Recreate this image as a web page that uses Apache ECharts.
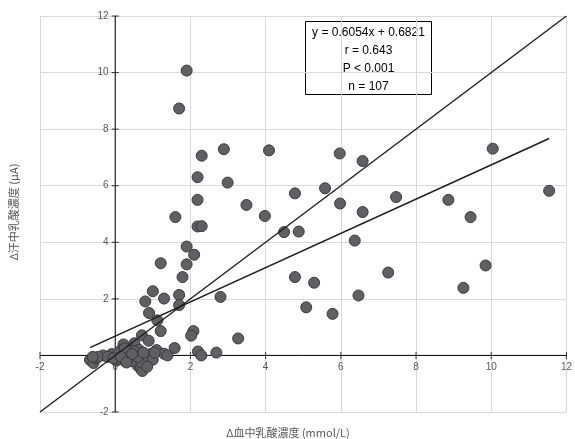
<!DOCTYPE html>
<html>
<head>
<meta charset="utf-8">
<script src="https://cdn.jsdelivr.net/npm/echarts@6/dist/echarts.min.js"></script>
<style>
  html, body { margin: 0; padding: 0; background: #fff; }
  #chart { width: 575px; height: 439px; }
</style>
</head>
<body>
<div id="chart"></div>
<script>
// Δ血中乳酸濃度 (x) と Δ汗中乳酸濃度 (y)
const bloodLactate = [
  1.90, 1.70, 2.30, 2.89, 4.09, 5.97, 6.58, 10.04, 2.19, 2.99,
  2.19, 4.78, 5.58, 5.98, 6.58, 7.47, 8.86, 9.45, 11.54, 3.49,
  3.98, 1.60, 2.19, 2.30, 4.49, 4.88, 6.37, 1.90, 2.10, 1.21,
  1.90, 1.79, 4.78, 7.26, 9.85, 5.29, 9.26, 6.47, 5.08, 5.78,
  2.80, 1.00, 1.30, 1.70, 0.80, 1.70, 0.90, 1.12, 1.21, 2.08,
  2.02, 0.71, 0.89, 3.27, 2.69, 0.22, 0.51, 1.58, 1.10, 1.30,
  1.39, 2.20, 2.29, 0.63, 0.41, 0.15, -0.67, -0.58, -0.51, -0.32,
  -0.09, 0.03, 0.18, 0.03, 0.24, 0.55, 0.40, 0.59, 0.78, 0.83,
  0.59, 0.68, 0.72, 0.83, 0.08, -0.45, -0.20, 0.30, 0.45, 0.65,
  0.70, 0.90, 0.50, 0.10, -0.60, 0.35, 0.95, 1.00, 0.25, 0.60,
  0.75, -0.05, 0.45, 0.85, 0.15, 1.05, 0.30
];
const sweatLactate = [
  10.07, 8.73, 7.06, 7.29, 7.25, 7.14, 6.87, 7.31, 6.30, 6.11,
  5.50, 5.73, 5.91, 5.37, 5.07, 5.60, 5.50, 4.89, 5.82, 5.32,
  4.93, 4.89, 4.56, 4.57, 4.36, 4.38, 4.06, 3.85, 3.56, 3.26,
  3.22, 2.77, 2.77, 2.93, 3.18, 2.57, 2.39, 2.12, 1.70, 1.47,
  2.07, 2.27, 2.01, 2.14, 1.91, 1.78, 1.50, 1.24, 0.86, 0.86,
  0.70, 0.71, 0.52, 0.60, 0.10, 0.39, 0.43, 0.26, 0.19, 0.06,
  0.00, 0.14, 0.00, 0.20, 0.17, 0.18, -0.16, -0.27, -0.10, 0.00,
  0.05, -0.04, 0.01, -0.18, -0.18, 0.00, -0.04, -0.15, -0.04, -0.18,
  -0.35, -0.47, -0.55, -0.32, -0.12, -0.05, -0.05, 0.05, -0.20, 0.05,
  -0.25, -0.10, 0.15, 0.10, -0.05, -0.10, 0.05, -0.15, 0.25, -0.05,
  0.10, -0.10, 0.05, -0.40, -0.05, 0.10, -0.25
];
const tickValues = [-2, 0, 2, 4, 6, 8, 10, 12];
const axisMin = -2;
const axisMax = 12;
const axisStep = 2;
const slope = 0.6054;
const intercept = 0.6821;
const statLines = ['y = 0.6054x + 0.6821', 'r = 0.643', 'P < 0.001', 'n = 107'];

const points = bloodLactate.map((x, i) => [x, sweatLactate[i]]);
const xLo = Math.min(...bloodLactate);
const xHi = Math.max(...bloodLactate);
const trend = [[xLo, slope * xLo + intercept], [xHi, slope * xHi + intercept]];
const identity = [[axisMin, axisMin], [axisMax, axisMax]];
// axes crossing at the origin, with cross ticks (Excel style)
const xZeroLine = [[axisMin, 0], [axisMax, 0]];
const yZeroLine = [[0, axisMin], [0, axisMax]];
const xTicks = tickValues.map((v) => [v, 0]);
const yTicks = tickValues.map((v) => [0, v]);

// grid box (px); tick labels are shifted onto the zero lines with offset
const W = 575, H = 439;
const gridL = 40, gridR = 6, gridT = 16, gridB = 27;
const zeroFrac = (0 - axisMin) / (axisMax - axisMin);
const yAxisShift = -zeroFrac * (W - gridL - gridR);
const xAxisShift = -zeroFrac * (H - gridT - gridB);

const cjk = '"Noto Sans CJK JP", "Noto Sans", sans-serif';
const grey = '#595959';

const valueAxis = (isY) => ({
  type: 'value',
  min: axisMin,
  max: axisMax,
  interval: axisStep,
  offset: isY ? yAxisShift : xAxisShift,
  axisLine: { show: false, onZero: false },
  axisTick: { show: false },
  axisLabel: {
    color: grey,
    fontSize: 10,
    fontFamily: 'Liberation Sans, Arial, sans-serif',
    margin: 7,
    formatter: (v) => (isY && v === 0 ? '' : String(v)),
  },
  splitLine: { show: true, lineStyle: { color: '#d9d9d9', width: 1 } },
});

const axisPart = (data, extra) => Object.assign({
  type: 'line',
  data: data,
  showSymbol: false,
  silent: true,
  lineStyle: { color: '#000', width: 1 },
  z: 1,
}, extra);

const tickPart = (data, size) => ({
  type: 'scatter',
  data: data,
  symbol: 'rect',
  symbolSize: size,
  silent: true,
  itemStyle: { color: '#000' },
  z: 1,
});

const chart = echarts.init(document.getElementById('chart'));
chart.setOption({
  animation: false,
  backgroundColor: '#fff',
  grid: { left: gridL, right: gridR, top: gridT, bottom: gridB, containLabel: false },
  xAxis: valueAxis(false),
  yAxis: valueAxis(true),
  series: [
    axisPart(xZeroLine),
    axisPart(yZeroLine),
    tickPart(xTicks, [1, 7]),
    tickPart(yTicks, [7, 1]),
    {
      type: 'scatter',
      data: points,
      symbolSize: 11,
      itemStyle: { color: '#606064', borderColor: '#3a3a3a', borderWidth: 1, opacity: 1 },
      z: 2,
    },
    {
      type: 'line',
      data: identity,
      showSymbol: false,
      lineStyle: { color: '#1e1e1e', width: 1.4 },
      z: 3,
    },
    {
      type: 'line',
      data: trend,
      showSymbol: false,
      lineStyle: { color: '#1e1e1e', width: 1.6 },
      z: 3,
    },
  ],
  graphic: [
    {
      type: 'group',
      left: 305,
      top: 21,
      children: [
        { type: 'rect', shape: { x: 0, y: 0, width: 126, height: 73 },
          style: { fill: '#fff', stroke: '#000', lineWidth: 1 } },
      ].concat(statLines.map((t, i) => ({
        type: 'text',
        x: 63,
        y: 11 + i * 18,
        style: {
          text: t,
          fill: '#000',
          font: '12px "Liberation Sans", Arial, sans-serif',
          align: 'center',
          verticalAlign: 'middle',
        },
      }))),
    },
    {
      type: 'text',
      x: 288,
      y: 433,
      style: { text: 'Δ血中乳酸濃度 (mmol/L)', fill: grey, font: '11px ' + cjk, align: 'center', verticalAlign: 'middle' },
    },
    {
      type: 'text',
      x: 14,
      y: 212,
      rotation: Math.PI / 2,
      style: { text: 'Δ汗中乳酸濃度 (μA)', fill: grey, font: '11px ' + cjk, align: 'center', verticalAlign: 'middle' },
    },
  ],
});
</script>
</body>
</html>
